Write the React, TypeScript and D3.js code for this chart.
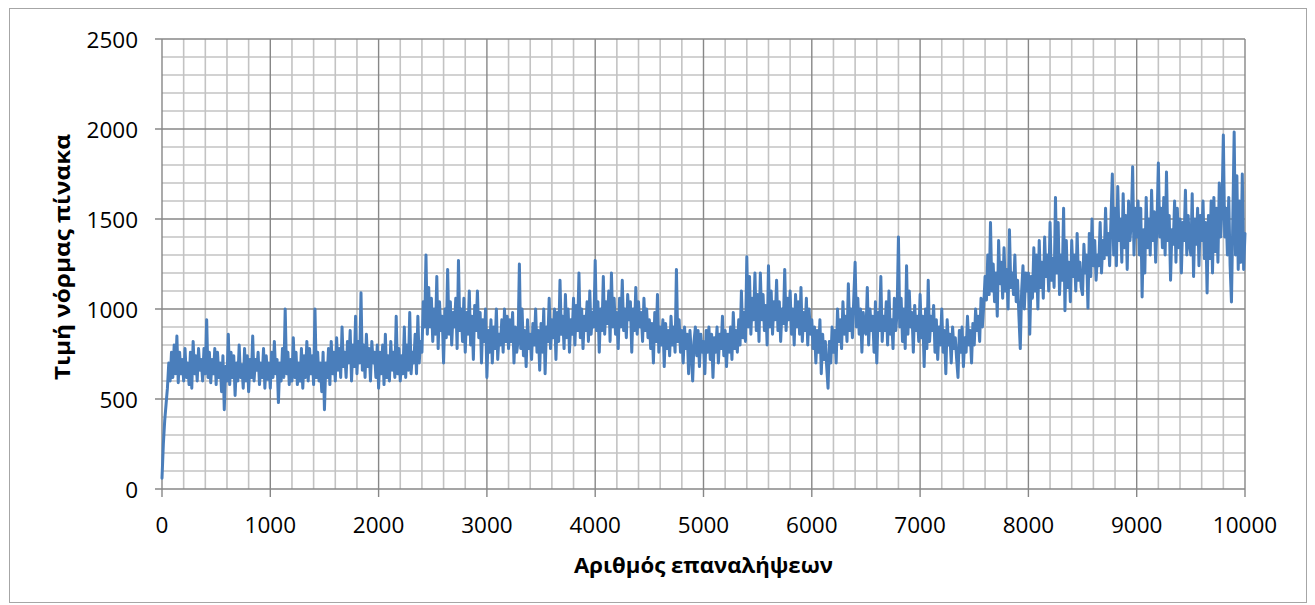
import React from "react";
import * as d3 from "d3";

// Matrix norm value sampled every 12.5 iterations, in five 2000-iteration segments.
const ITER_STEP = 12.5;

const normSeg1 = [
  // 0 – 487.5
  60, 250, 380, 470, 560, 700, 600, 760, 620, 800, 640, 850, 590, 760, 640, 720, 600, 780, 620, 700,
  580, 760, 560, 820, 640, 740, 600, 780, 660, 720, 600, 780, 640, 940, 620, 760, 590, 720, 640, 780,
  // 500 – 987.5
  580, 760, 620, 700, 540, 740, 440, 680, 600, 860, 580, 760, 620, 740, 520, 700, 600, 800, 620, 690,
  560, 780, 600, 740, 540, 720, 620, 850, 600, 720, 660, 760, 580, 700, 620, 780, 560, 740, 610, 700,
  // 1000 – 1487.5
  560, 760, 620, 820, 640, 720, 480, 700, 600, 780, 620, 1000, 640, 760, 580, 720, 600, 840, 620, 760,
  580, 700, 600, 780, 560, 740, 620, 820, 600, 780, 640, 740, 580, 1000, 620, 760, 600, 700, 540, 760,
  // 1500 – 1987.5
  440, 700, 620, 780, 580, 820, 640, 760, 600, 840, 660, 780, 620, 900, 680, 760, 620, 820, 700, 880,
  600, 800, 680, 960, 640, 820, 700, 1090, 660, 800, 620, 860, 680, 780, 600, 820, 700, 760, 620, 800,
];

const normSeg2 = [
  // 2000 – 2487.5
  560, 760, 640, 800, 580, 860, 620, 740, 600, 820, 660, 760, 620, 960, 640, 780, 600, 740, 640, 900,
  620, 800, 660, 980, 640, 760, 700, 860, 640, 960, 700, 820, 760, 1040, 900, 1300, 860, 1120, 900, 1060,
  // 2500 – 2987.5
  820, 1000, 860, 1180, 780, 1040, 880, 960, 700, 1000, 840, 1220, 860, 1040, 800, 980, 900, 1060, 780, 1270,
  880, 1000, 820, 1060, 760, 980, 860, 1100, 800, 960, 720, 1020, 880, 1100, 840, 980, 700, 940, 820, 1000,
  // 3000 – 3487.5
  620, 880, 760, 940, 700, 900, 780, 1000, 720, 860, 800, 940, 760, 1000, 820, 960, 780, 940, 820, 980,
  700, 900, 760, 820, 1250, 780, 1000, 740, 880, 680, 940, 780, 860, 720, 920, 800, 1000, 760, 880, 660,
  // 3500 – 3987.5
  920, 760, 1000, 640, 900, 820, 1060, 780, 940, 840, 1000, 720, 980, 820, 1160, 860, 960, 780, 1080, 840,
  1000, 760, 940, 860, 1060, 800, 1020, 880, 1200, 840, 1000, 780, 960, 880, 1040, 820, 1100, 860, 980, 900,
];

const normSeg3 = [
  // 4000 – 4487.5
  1270, 880, 1040, 760, 1000, 880, 1180, 860, 1040, 920, 1100, 820, 1200, 900, 1060, 860, 980, 780, 1060, 900,
  1160, 880, 1000, 840, 1080, 940, 1040, 760, 1000, 880, 1120, 860, 1040, 900, 980, 820, 1060, 880, 1000, 840,
  // 4500 – 4987.5
  940, 780, 920, 700, 980, 820, 1080, 760, 900, 800, 940, 680, 920, 780, 880, 740, 960, 800, 900, 760,
  1220, 820, 940, 760, 880, 700, 900, 780, 860, 640, 880, 760, 600, 820, 900, 740, 880, 680, 860, 760,
  // 5000 – 5487.5
  820, 640, 880, 760, 900, 720, 860, 620, 840, 760, 900, 700, 860, 780, 960, 740, 880, 680, 860, 760,
  900, 720, 980, 780, 880, 760, 940, 800, 1100, 840, 980, 820, 1290, 900, 1180, 860, 1060, 940, 1200, 880,
  // 5500 – 5987.5
  1080, 820, 1200, 940, 1080, 880, 1020, 800, 1240, 900, 1100, 860, 1040, 940, 1160, 880, 1040, 820, 1000, 920,
  1220, 880, 1060, 940, 1100, 860, 1000, 800, 1080, 900, 1040, 860, 1120, 820, 980, 880, 1060, 800, 1000, 860,
];

const normSeg4 = [
  // 6000 – 6487.5
  940, 780, 900, 700, 880, 760, 940, 640, 860, 720, 820, 680, 560, 820, 700, 900, 760, 880, 700, 1000,
  820, 940, 780, 1040, 860, 960, 820, 1140, 880, 1000, 840, 1060, 1260, 900, 1060, 860, 1000, 760, 980, 880,
  // 6500 – 6987.5
  860, 1120, 800, 1000, 880, 960, 760, 1040, 700, 980, 880, 1180, 820, 960, 880, 1040, 800, 1100, 860, 940,
  780, 1060, 880, 980, 1400, 900, 1060, 820, 1000, 780, 1240, 860, 1100, 900, 980, 760, 1020, 880, 960, 820,
  // 7000 – 7487.5
  1080, 840, 960, 680, 1000, 780, 1160, 820, 960, 880, 1020, 760, 940, 720, 900, 800, 1000, 760, 880, 640,
  940, 800, 860, 700, 900, 780, 840, 720, 620, 880, 760, 900, 680, 840, 760, 960, 800, 880, 700, 920,
  // 7500 – 7987.5
  800, 1000, 880, 960, 820, 1060, 900, 1020, 1180, 1050, 1300, 1080, 1480, 1100, 1250, 1040, 1200, 960, 1380, 1140,
  1260, 1060, 1340, 1100, 1220, 1000, 1440, 1120, 1200, 1080, 1300, 1040, 1160, 960, 780, 1100, 1240, 1000, 1200, 1100,
];

const normSeg5 = [
  // 8000 – 8487.5
  1200, 860, 1180, 1060, 1340, 1100, 1300, 1000, 1380, 1120, 1260, 1060, 1400, 1180, 1300, 1100, 1480, 1160, 1280, 1120,
  1620, 1200, 1480, 1080, 1300, 1160, 1560, 990, 1380, 1120, 1260, 1040, 1380, 1180, 1300, 1100, 1420, 1160, 1260, 1120,
  // 8500 – 8987.5
  1080, 1360, 1200, 1300, 1005, 1420, 1180, 1500, 1240, 1380, 1160, 1300, 1240, 1480, 1200, 1380, 1280, 1560, 1300, 1420,
  1240, 1500, 1750, 1300, 1560, 1240, 1680, 1380, 1500, 1260, 1640, 1340, 1520, 1220, 1600, 1380, 1480, 1790, 1300, 1560,
  // 9000 – 9487.5
  1400, 1600, 1300, 1560, 1067, 1440, 1200, 1620, 1340, 1500, 1300, 1660, 1380, 1540, 1260, 1480, 1811, 1400, 1560, 1340,
  1620, 1300, 1761, 1380, 1520, 1160, 1440, 1360, 1600, 1260, 1560, 1340, 1500, 1200, 1480, 1380, 1660, 1300, 1520, 1360,
  // 9500 – 10000
  1300, 1640, 1180, 1500, 1360, 1560, 1240, 1520, 1380, 1600, 1280, 1480, 1089, 1520, 1280, 1600, 1200, 1620, 1320, 1560,
  1260, 1700, 1400, 1560, 1967, 1400, 1560, 1300, 1620, 1240, 1039, 1500, 1983, 1300, 1740, 1220, 1600, 1260, 1750, 1220,
  1420,
];

const xTicks = [0, 1000, 2000, 3000, 4000, 5000, 6000, 7000, 8000, 9000, 10000];
const yTicks = [0, 500, 1000, 1500, 2000, 2500];
const xMinorStep = 200;
const yMinorStep = 100;

const xTitle = "Αριθμός επαναλήψεων";
const yTitle = "Τιμή νόρμας πίνακα";

const W = 1315;
const H = 605;
const plot = { left: 162, right: 1245, top: 39, bottom: 489 };
const FONT = "'Open Sans', 'DejaVu Sans', sans-serif";

export default function App() {
  const values = [...normSeg1, ...normSeg2, ...normSeg3, ...normSeg4, ...normSeg5];
  const data = values.map((v, i) => ({ it: i * ITER_STEP, v }));

  const x = d3.scaleLinear().domain([0, 10000]).range([plot.left, plot.right]);
  const y = d3.scaleLinear().domain([0, 2500]).range([plot.bottom, plot.top]);

  const line = d3
    .line<{ it: number; v: number }>()
    .x((d) => x(d.it))
    .y((d) => y(d.v));

  const xMinor = d3.range(0, 10000 + 1, xMinorStep).filter((t) => t % 1000 !== 0);
  const yMinor = d3.range(0, 2500 + 1, yMinorStep).filter((t) => t % 500 !== 0);

  const minorColor = "#c3c3c3";
  const majorColor = "#878787";

  return (
    <svg
      width={W}
      height={H}
      style={{ position: "absolute", left: 0, top: 0, background: "#fff" }}
    >
      <rect x={9.5} y={8.5} width={1297} height={594} fill="#fff" stroke="#a6a6a6" strokeWidth={1} />

      {/* minor grid */}
      <g stroke={minorColor} strokeWidth={1.6}>
        {xMinor.map((t) => (
          <line key={"xm" + t} x1={x(t)} x2={x(t)} y1={plot.top} y2={plot.bottom} />
        ))}
        {yMinor.map((t) => (
          <line key={"ym" + t} x1={plot.left} x2={plot.right} y1={y(t)} y2={y(t)} />
        ))}
      </g>

      {/* major grid with outside tick marks */}
      <g stroke={majorColor} strokeWidth={1.4}>
        {xTicks.map((t) => (
          <line key={"xM" + t} x1={x(t)} x2={x(t)} y1={plot.top} y2={plot.bottom + 8} />
        ))}
        {yTicks.map((t) => (
          <line key={"yM" + t} x1={plot.left - 7} x2={plot.right} y1={y(t)} y2={y(t)} />
        ))}
      </g>

      {/* series */}
      <path
        d={line(data) ?? ""}
        fill="none"
        stroke="#4a7ebb"
        strokeWidth={3}
        strokeLinejoin="round"
        strokeLinecap="round"
      />

      {/* tick labels */}
      <g fontFamily={FONT} fontSize={22.5} fill="#000">
        {yTicks.map((t) => (
          <text key={"yl" + t} x={138} y={y(t)} textAnchor="end" dominantBaseline="central">
            {t}
          </text>
        ))}
        {xTicks.map((t) => (
          <text key={"xl" + t} x={x(t)} y={524} textAnchor="middle" dominantBaseline="central">
            {t}
          </text>
        ))}
      </g>

      {/* axis titles */}
      <text
        x={(plot.left + plot.right) / 2}
        y={565}
        textAnchor="middle"
        dominantBaseline="central"
        fontFamily={FONT}
        fontWeight="bold"
        fontSize={21}
        textLength={259}
        lengthAdjust="spacingAndGlyphs"
      >
        {xTitle}
      </text>
      <text
        transform={`translate(62, 257) rotate(-90)`}
        textAnchor="middle"
        dominantBaseline="central"
        fontFamily={FONT}
        fontWeight="bold"
        fontSize={21}
        textLength={246}
        lengthAdjust="spacingAndGlyphs"
      >
        {yTitle}
      </text>
    </svg>
  );
}
